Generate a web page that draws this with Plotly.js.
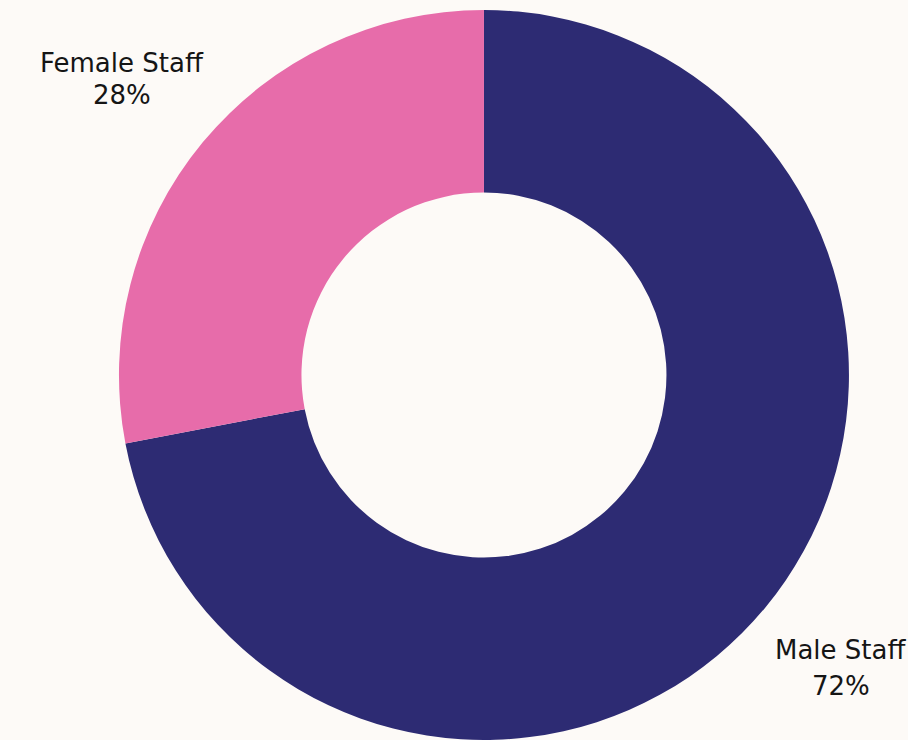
<!DOCTYPE html>
<html>
<head>
<meta charset="utf-8">
<script src="https://cdn.plot.ly/plotly-3.0.1.min.js"></script>
<style>html,body{margin:0;padding:0;background:#FDFAF7;}#chart{width:908px;height:740px;}</style>
</head>
<body>
<div id="chart"></div>
<script>
const categories = ["Male Staff", "Female Staff"];
const values = [72, 28];
const colors = ["#2D2B73", "#E76CAA"];

const total = values.reduce((a, b) => a + b, 0);
const pct = values.map(v => Math.round(v / total * 100) + "%");

// label positions (paper coords), style only
const labelPos = [
  {x: 0.926, y1: 0.123, y2: 0.074},
  {x: 0.1344, y1: 0.927, y2: 0.884}
];
const fnt = {family: "DejaVu Sans, sans-serif", size: 26, color: "#151515"};
const annotations = [];
categories.forEach((c, i) => {
  const p = labelPos[i];
  annotations.push({x: p.x, y: p.y1, xref: "paper", yref: "paper", text: c, showarrow: false,
    font: fnt, xanchor: "center", yanchor: "middle"});
  annotations.push({x: p.x, y: p.y2, xref: "paper", yref: "paper", text: pct[i], showarrow: false,
    font: fnt, xanchor: "center", yanchor: "middle"});
});

const data = [{
  type: "pie",
  labels: categories,
  values: values,
  hole: 0.5,
  sort: false,
  direction: "clockwise",
  rotation: 0,
  marker: {colors: colors, line: {width: 0}},
  textinfo: "none",
  showlegend: false,
  domain: {x: [0.13, 0.936], y: [0, 1]}
}];

const layout = {
  width: 908,
  height: 740,
  margin: {l: 0, r: 0, t: 10, b: 0},
  paper_bgcolor: "#FDFAF7",
  plot_bgcolor: "#FDFAF7",
  showlegend: false,
  annotations: annotations
};

Plotly.newPlot("chart", data, layout, {displayModeBar: false, staticPlot: true});
</script>
</body>
</html>
